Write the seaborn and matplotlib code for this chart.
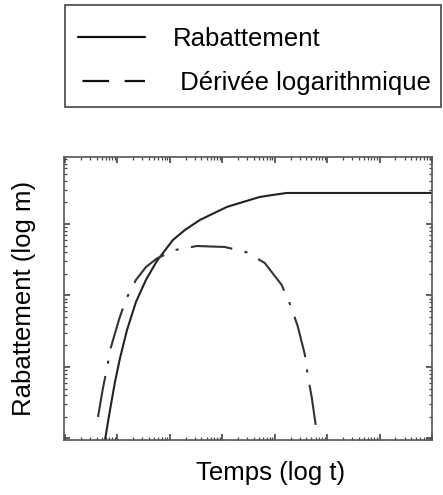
import matplotlib
matplotlib.use("Agg")
import matplotlib.pyplot as plt
from matplotlib.lines import Line2D
from matplotlib.patches import Rectangle
import seaborn as sns

# values (log-log axes)
temps_rab = [5.78, 7.2, 8.96, 11.2, 15.2, 22.5, 34.9, 56.5, 114, 193, 373, 1218, 2155,
             5180, 9160, 16900, 1e5, 1e7]
rabattement = [0.95, 2.50, 6.17, 13.4, 32.9, 81.1, 165, 304, 597, 824, 1138, 1730, 1968,
               2388, 2547, 2716, 2716, 2716]

temps_der = [4.25, 5.29, 6.31, 7.52, 10.7, 14.5, 22.5, 34.9, 56.5, 124, 327, 1116, 2805,
             6457, 13600, 20200, 27400, 37300, 42500, 50700, 60400]
derivee = [2.0, 5.08, 9.68, 19.0, 46.0, 88.0, 165, 250, 330, 432, 492, 477, 406,
           285, 140, 71.3, 37.4, 15.2, 7.73, 3.80, 1.55]

labels = ["Rabattement", " Dérivée logarithmique"]
xlabel = "Temps (log t)"
ylabel = "Rabattement (log m)"

sns.set_style("ticks")
plt.rcParams['font.family'] = ['Liberation Sans', 'DejaVu Sans']
plt.rcParams['text.color'] = 'black'
plt.rcParams['axes.labelcolor'] = 'black'

W, H = 443, 495
fig = plt.figure(figsize=(W / 100, H / 100), dpi=100)
ax = fig.add_axes([64 / W, 1 - 440 / H, 368 / W, 283 / H])

sns.lineplot(x=temps_rab, y=rabattement, ax=ax, color="#222222", lw=1.5, sort=False)
sns.lineplot(x=temps_der, y=derivee, ax=ax, color="#333333", lw=1.5, sort=False,
             linestyle=(0, (20, 6, 1.5, 6)))

ax.set_xscale("log")
ax.set_yscale("log")
ax.set_xlim(10 ** -0.02, 1e7)
ax.set_ylim(10 ** -0.021, 10 ** 3.937)

ax.tick_params(which="both", direction="in", top=True, right=True,
               labelbottom=False, labelleft=False, color="#444444")
ax.tick_params(which="major", length=4, width=1.2)
ax.tick_params(which="minor", length=2.5, width=0.9)
for s in ax.spines.values():
    s.set_color("#555555")
    s.set_linewidth(1.2)

ax.set_xlabel(xlabel, fontsize=18.5)
ax.set_ylabel(ylabel, fontsize=18.5)
ax.xaxis.set_label_coords(0.56, -0.074)
ax.yaxis.set_label_coords(-0.076, 0.5)

# legend
handles = [Line2D([], [], color="#111111", lw=1.6),
           Line2D([], [], color="#111111", lw=1.6, linestyle=(17, (12, 7)))]
fig.legend(handles, labels, loc="upper left", bbox_to_anchor=(78 / W, 1 - 27 / H),
           frameon=False, fontsize=18.5, borderpad=0, borderaxespad=0,
           handlelength=2.6, handletextpad=1.09, labelspacing=0.78)
fig.patches.append(Rectangle((65 / W, 1 - 107 / H), 376 / W, 102 / H,
                             transform=fig.transFigure, fill=False,
                             edgecolor="#444444", lw=1.2))

fig.savefig("out.png", dpi=100)
